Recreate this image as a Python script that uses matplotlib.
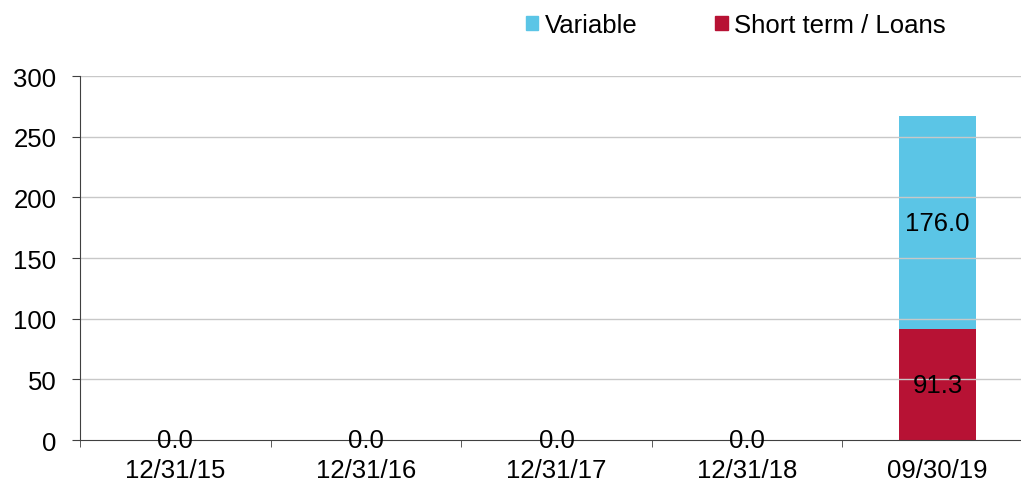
import numpy as np
import matplotlib.pyplot as plt
from matplotlib.patches import Patch

plt.rcParams['font.family'] = ['Liberation Sans', 'DejaVu Sans']

# Data
dates = ['12/31/15', '12/31/16', '12/31/17', '12/31/18', '09/30/19']
short_term = [0.0, 0.0, 0.0, 0.0, 91.3]
variable = [0.0, 0.0, 0.0, 0.0, 176.0]

c_var = '#5bc5e6'
c_short = '#b71234'
fs = 18.5

fig = plt.figure(figsize=(10.21, 4.85), dpi=100)
# axes runs a little past the right edge of the figure, like the original
ax = fig.add_axes([0.0784, 0.0907, 0.9334, 0.7503])

x = np.arange(len(dates))
ax.bar(x, short_term, width=0.404, color=c_short, zorder=1)
ax.bar(x, variable, width=0.404, bottom=short_term, color=c_var, zorder=1)

# Grid in front of bars, light gray
ax.set_ylim(0, 300)
ax.set_yticks(range(0, 301, 50))
for yv in range(50, 301, 50):
    ax.axhline(yv, color='#c8c8c8', lw=1, zorder=2)

# Value labels
for i in range(len(dates)):
    if short_term[i] == 0 and variable[i] == 0:
        ax.text(x[i], 0, f'{0.0:.1f}', ha='center', va='center', fontsize=fs, zorder=4)
    else:
        ax.text(x[i], short_term[i] / 2, f'{short_term[i]:.1f}', ha='center', va='center',
                fontsize=fs, zorder=4)
        ax.text(x[i], short_term[i] + variable[i] / 2, f'{variable[i]:.1f}', ha='center',
                va='center', fontsize=fs, zorder=4)

ax.set_xlim(-0.5, len(dates) - 0.5)
ax.set_xticks(x)
ax.set_xticklabels(dates, fontsize=fs)
ax.set_xticks(np.arange(-0.5, len(dates), 1.0), minor=True)
ax.tick_params(axis='x', which='major', length=0, pad=13)
ax.tick_params(axis='x', which='minor', length=5, color='#404040', direction='out')
ax.tick_params(axis='y', labelsize=fs, length=6, color='#404040', pad=11)

for s in ['top', 'right']:
    ax.spines[s].set_visible(False)
ax.spines['left'].set_color('#404040')
ax.spines['bottom'].set_color('#404040')
ax.spines['bottom'].set_zorder(3)

handles = [Patch(color=c_var, label='Variable'),
           Patch(color=c_short, label='Short term / Loans')]
fig.legend(handles=handles, loc='center', bbox_to_anchor=(0.7205, 0.946), ncol=2,
           frameon=False, fontsize=fs, handlelength=0.5, handleheight=0.5,
           handletextpad=0.25, columnspacing=3.0, borderpad=0)

fig.savefig('out.png', dpi=100)
